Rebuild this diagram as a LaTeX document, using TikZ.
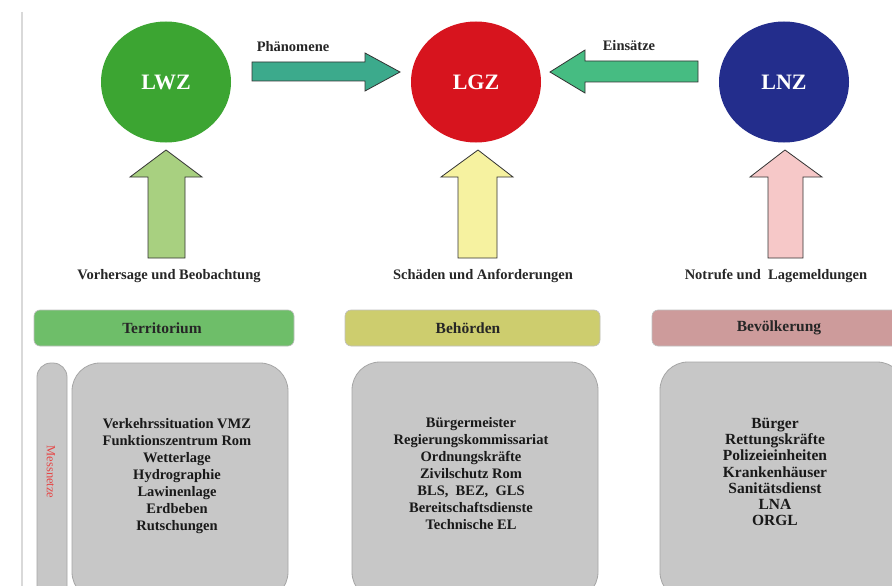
\documentclass[tikz,border=0pt]{standalone}
\usepackage{fontspec}
\setmainfont{Liberation Serif}
\usetikzlibrary{shapes.geometric}
\begin{document}
\begin{tikzpicture}[x=1pt,y=-1pt,
  hub/.style={ellipse,minimum width=130pt,minimum height=121pt,inner sep=0pt,
    text=white,font=\bfseries\fontsize{22}{24}\selectfont},
  fat/.style={draw=black!80,line width=0.8pt,line join=miter},
  lbl/.style={font=\bfseries\fontsize{14.5}{16}\selectfont,text=black!85},
  hdr/.style={font=\bfseries\fontsize{15.5}{17}\selectfont,text=black!85},
  headbar/.style={rounded corners=6pt,draw=black!25,line width=0.6pt},
  listbox/.style={rounded corners=28pt,fill=black!22,draw=black!35,line width=0.8pt},
  listtext/.style={align=center,text=black!90,font=\bfseries\fontsize{14.5}{17}\selectfont}]
\useasboundingbox (0,0) rectangle (892,586);
\fill[white] (0,0) rectangle (892,586);
% left margin rule
\draw[black!15,line width=2pt] (22,12) -- (22,586);

% central hubs
\node[hub,fill={rgb,255:red,60;green,165;blue,50}] (lwz) at (166,82) {LWZ};
\node[hub,fill={rgb,255:red,215;green,20;blue,30}] (lgz) at (476,82) {LGZ};
\node[hub,fill={rgb,255:red,35;green,45;blue,140}] (lnz) at (784,82) {LNZ};

% horizontal flow arrows
\definecolor{teal1}{RGB}{60,170,140}
\draw[fat,fill=teal1] (252,62) -- (365,62) -- (365,53) -- (400,72) -- (365,91) -- (365,81) -- (252,81) -- cycle;
\node[lbl] (phae) at (293,47) {Phänomene};
\definecolor{teal2}{RGB}{70,188,130}
\draw[fat,fill=teal2] (698,61) -- (585,61) -- (585,50) -- (550,72) -- (585,93) -- (585,82) -- (698,82) -- cycle;
\node[lbl] (eins) at (629,46) {Einsätze};

% upward input arrows
\draw[fat,fill={rgb,255:red,168;green,208;blue,128}] (148,258) -- (148,177) -- (130,177) -- (166,150) -- (202,177) -- (185,177) -- (185,258) -- cycle;
\draw[fat,fill={rgb,255:red,246;green,242;blue,160}] (458,258) -- (458,177) -- (441,177) -- (478,150) -- (513,177) -- (497,177) -- (497,258) -- cycle;
\draw[fat,fill={rgb,255:red,246;green,200;blue,200}] (768,258) -- (768,177) -- (750,177) -- (785,150) -- (822,177) -- (803,177) -- (803,258) -- cycle;

\node[lbl] (vorh) at (169,276) {Vorhersage und Beobachtung};
\node[lbl] (scha) at (483,276) {Schäden und Anforderungen};
\node[lbl] (notr) at (776,276) {Notrufe und\ \ Lagemeldungen};

% category headers
\draw[headbar,fill={rgb,255:red,110;green,190;blue,105}] (34,310) rectangle (294,346);
\node[hdr] (terr) at (162,328) {Territorium};
\draw[headbar,fill={rgb,255:red,205;green,205;blue,110}] (345,310) rectangle (600,346);
\node[hdr] (behr) at (468,328) {Behörden};
\draw[headbar,fill={rgb,255:red,205;green,155;blue,155}] (652,310) rectangle (900,346);
\node[hdr] (bevo) at (779,328) {Bevölkerung};

% content boxes
\draw[listbox,rounded corners=14pt] (37,363) rectangle (67,600);
\node[rotate=-90,text={rgb,255:red,230;green,70;blue,70},font=\fontsize{12.5}{14}\selectfont] (mess) at (51,472) {Messnetze};
\draw[listbox] (72,363) rectangle (288,600);
\node[listtext] (terrl) at (177,476) {Verkehrssituation VMZ\\Funktionszentrum Rom\\Wetterlage\\Hydrographie\\Lawinenlage\\Erdbeben\\Rutschungen};
\draw[listbox] (352,362) rectangle (598,600);
\node[listtext] (behrl) at (471,474) {Bürgermeister\\Regierungskommissariat\\Ordnungskräfte\\Zivilschutz Rom\\BLS,\ \ BEZ,\ \ GLS\\Bereitschaftsdienste\\Technische EL};
\draw[listbox] (660,362) rectangle (905,600);
\node[listtext,font=\bfseries\fontsize{15.5}{16.2}\selectfont] (bevol) at (775,472) {Bürger\\Rettungskräfte\\Polizeieinheiten\\Krankenhäuser\\Sanitätsdienst\\LNA\\ORGL};
\end{tikzpicture}
\end{document}
